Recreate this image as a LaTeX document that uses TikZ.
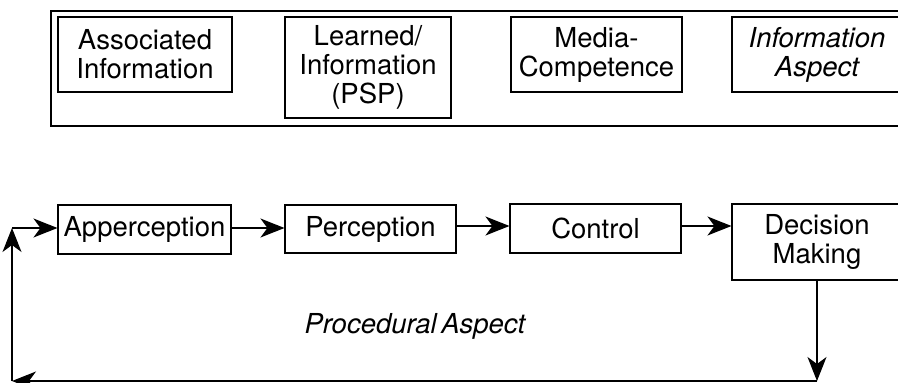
\documentclass[tikz,border=0pt]{standalone}
\usepackage{fontspec}
\setmainfont{TeX Gyre Heros}
\usetikzlibrary{arrows.meta}
\begin{document}
\begin{tikzpicture}[x=1pt,y=-1pt,
  box/.style={draw, line width=1.1pt, inner sep=0pt, align=center,
    font=\fontsize{27.5}{29}\selectfont},
  conn/.style={line width=1.1pt, -{Stealth[length=24pt,width=19pt,inset=7pt]}},
  plain/.style={line width=1.1pt}]
\useasboundingbox (0,0) rectangle (898,383);
\clip (0,0) rectangle (898,383);
% outer frame
\node[draw, line width=1.5pt, minimum width=870pt, minimum height=115pt, anchor=north west, inner sep=0pt] (frame) at (50,10) {};
% top row
\node[box, minimum width=174pt, minimum height=75pt] (assoc) at (145,54.5) {Associated\\Information};
\node[box, minimum width=166pt, minimum height=101pt] (learn) at (368,67.5) {Learned/\\Information\\(PSP)};
\node[box, minimum width=171pt, minimum height=75pt] (media) at (596.5,54.5) {Media-\\Competence};
\node[box, minimum width=170pt, minimum height=75pt, font=\fontsize{27.5}{29}\selectfont\itshape] (infa) at (817,54.5) {Information\\Aspect};
% bottom row
\node[box, minimum width=173pt, minimum height=49pt] (apper) at (144.5,229.5) {Apperception};
\node[box, minimum width=171pt, minimum height=48pt] (perc) at (370.5,229) {Perception};
\node[box, minimum width=171pt, minimum height=49pt] (ctrl) at (595.5,228.5) {Control};
\node[box, minimum width=170pt, minimum height=76pt] (dec) at (817,242) {Decision\\Making};
\node[font=\fontsize{27.5}{29}\selectfont\itshape, inner sep=0pt, anchor=base] (proc) at (415,333) {Procedural\,Aspect};
% connectors
\coordinate (bot) at (817,381);
\coordinate (bl) at (12,381);
\coordinate (tl) at (12,228);
\draw[conn] (apper.east |- 0,228) -- (perc.west |- 0,228);
\draw[conn] (perc.east |- 0,226) -- (ctrl.west |- 0,226);
\draw[conn] (ctrl.east |- 0,226) -- (dec.west |- 0,226);
\draw[conn] (dec.south) -- (bot);
\draw[conn] (bot) -- (bl);
\draw[conn] (bl) -- (tl);
\draw[conn] (tl) -- (apper.west |- tl);
\end{tikzpicture}
\end{document}
